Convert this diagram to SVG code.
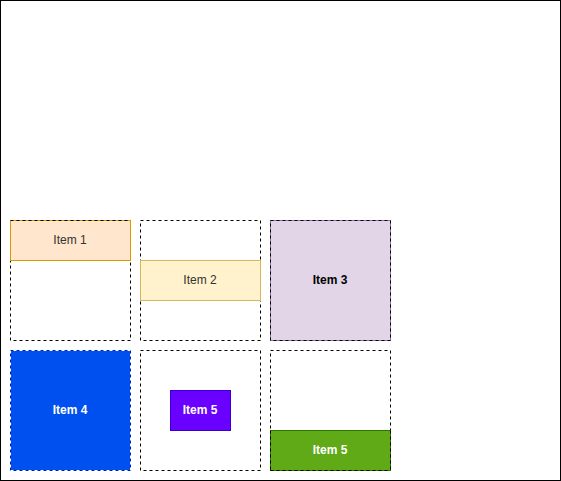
<svg xmlns="http://www.w3.org/2000/svg" width="561" height="481" viewBox="0 0 561 481">
<style>
.cont{fill:none;stroke:#000;stroke-dasharray:3 3}
text{font-family:"Liberation Sans",Arial,sans-serif;font-size:12px;text-anchor:middle;dominant-baseline:central}
.b{font-weight:bold}
</style>
<rect x="0.5" y="0.5" width="560" height="480" fill="#fff" stroke="#000"/>
<g id="containers">
<rect class="cont" x="10.5" y="220.5" width="120" height="120"/>
<rect class="cont" x="140.5" y="220.5" width="120" height="120"/>
<rect class="cont" x="140.5" y="350.5" width="120" height="120"/>
<rect class="cont" x="270.5" y="350.5" width="120" height="120"/>
</g>
<g id="item1">
<rect x="10.5" y="220.5" width="120" height="40" fill="#ffe6cc" stroke="#d79b00"/>
<path d="M10.5 220.5H130.5" class="cont"/>
<text x="70" y="240" fill="#333">Item 1</text>
</g>
<g id="item2">
<rect x="140.5" y="260.5" width="120" height="40" fill="#fff2cc" stroke="#d6b656"/>
<text x="200" y="280" fill="#333">Item 2</text>
</g>
<g id="item3">
<rect x="270.5" y="220.5" width="120" height="120" fill="#e1d5e7" stroke="#9673a6"/>
<rect class="cont" x="270.5" y="220.5" width="120" height="120" stroke="#333"/>
<text x="330" y="280" class="b" fill="#000">Item 3</text>
</g>
<g id="item4">
<rect x="10.5" y="350.5" width="120" height="120" fill="#0050ef" stroke="#fff"/>
<rect x="10.5" y="350.5" width="120" height="120" fill="none" stroke="#001dbc" stroke-dasharray="3 3"/>
<text x="70" y="410" class="b" fill="#fff">Item 4</text>
</g>
<g id="item5">
<rect x="170.5" y="390.5" width="60" height="40" fill="#6a00ff" stroke="#3700cc"/>
<text x="200" y="410" class="b" fill="#fff">Item 5</text>
</g>
<g id="item6">
<rect x="270.5" y="430.5" width="120" height="40" fill="#60a917" stroke="#2d7600"/>
<path d="M270.5 470.5H390.5M270.5 430.5V470.5M390.5 430.5V470.5" class="cont"/>
<text x="330" y="450" class="b" fill="#fff">Item 5</text>
</g>
</svg>
